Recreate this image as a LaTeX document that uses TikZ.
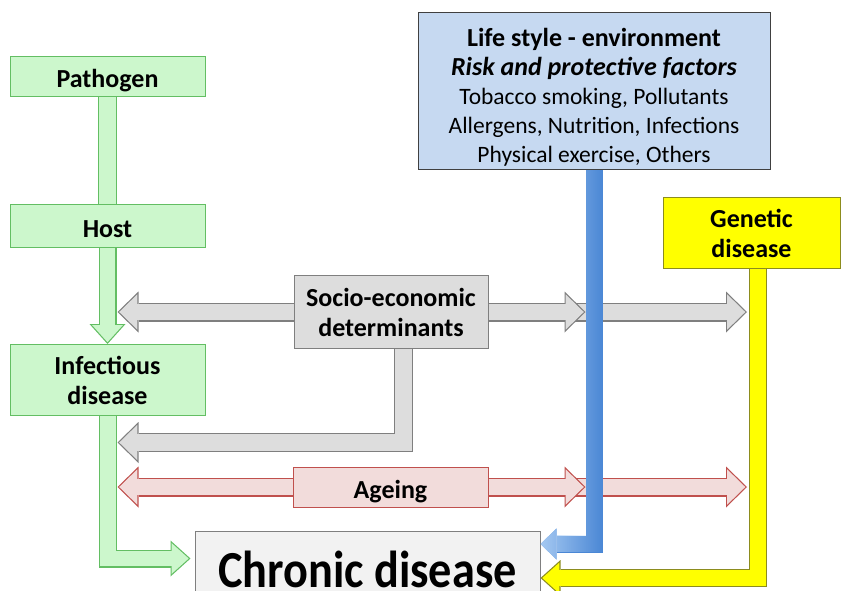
\documentclass[tikz,border=0pt]{standalone}
\usepackage{fontspec}
\setmainfont{Carlito}
\usetikzlibrary{arrows.meta,calc,fadings}

\definecolor{greenfill}{HTML}{CCF7CC}
\definecolor{greenedge}{HTML}{63BE63}
\definecolor{grayfill}{HTML}{DDDDDD}
\definecolor{grayedge}{HTML}{7F7F7F}
\definecolor{pinkfill}{HTML}{F2DCDB}
\definecolor{pinkedge}{HTML}{C0504D}
\definecolor{bluefill}{HTML}{C6D9F1}
\definecolor{bluebar}{HTML}{4A87D5}
\definecolor{bluelight}{HTML}{B2D2F6}
\definecolor{yellowfill}{HTML}{FFFF00}
\definecolor{yellowedge}{HTML}{8C8C1E}
\definecolor{chronicfill}{HTML}{F2F2F2}

\tikzfading[name=bluefade, left color=transparent!0, right color=transparent!100]

\tikzset{
  fatline/.style 2 args={line width=19pt, draw=#1, line join=miter,
    postaction={draw=#2, line width=16.6pt}},
  fat/.style 2 args={line width=19pt, draw=#1, line join=miter,
    -{Triangle[length=21pt,width=41pt,line width=0pt]},
    postaction={draw=#2, line width=16.6pt, shorten >=1.72pt,
      -{Triangle[length=18.08pt,width=35.3pt,line width=0pt]}}},
  fatmid/.style 2 args={line width=18pt, draw=#1, line join=miter,
    -{Triangle[length=20pt,width=36pt,line width=0pt]},
    postaction={draw=#2, line width=15.6pt, shorten >=1.79pt,
      -{Triangle[length=17.01pt,width=30.6pt,line width=0pt]}}},
  boxfont/.style={font=\fontsize{26}{30}\selectfont\bfseries},
  oneline/.style={text height=22pt,text depth=0pt},
}

\begin{document}
\begin{tikzpicture}[x=1pt,y=-1pt]
		\useasboundingbox (0,0) rectangle (844,591);
		\clip (0,0) rectangle (844,591);
		\begin{scope}[every node/.style={draw=greenedge,fill=greenfill,line width=1pt,
			minimum width=195pt,inner sep=0pt,align=center,boxfont}]
			\node[minimum height=40pt,oneline] (pathogen) at (107.5,77) {Pathogen};
			\node[minimum height=42pt,oneline] (host) at (107.5,226) {Host};
			\node[minimum height=71pt] (infect) at (107.5,380) {Infectious\\disease};
		\end{scope}
		\begin{scope}[every node/.style={line width=1pt,inner sep=0pt,align=center,boxfont}]
			\node[draw=grayedge,fill=grayfill,minimum width=194pt,minimum height=73pt]
				(socio) at (391,312) {Socio-economic\\determinants};
			\node[draw=pinkedge,fill=pinkfill,minimum width=195pt,minimum height=40pt,oneline]
				(ageing) at (390.5,487) {Ageing};
			\node[draw=black!75,fill=bluefill,minimum width=352pt,minimum height=157pt,
				font=\fontsize{23.5}{29}\selectfont]
				(life) at (594,91.5) {\rule{0pt}{30pt}{\fontsize{26}{30}\selectfont\bfseries Life style - environment}\\
				{\fontsize{26}{30}\selectfont\bfseries\itshape Risk and protective factors}\\
				Tobacco smoking, Pollutants\\
				Allergens, Nutrition, Infections\\
				Physical exercise, Others};
			\node[draw=yellowedge,fill=yellowfill,minimum width=177pt,minimum height=70pt]
				(genetic) at (751.5,233) {Genetic\\disease};
			\node[draw=grayedge,fill=chronicfill,minimum width=345pt,anchor=north,
				text height=56pt,text depth=34pt,font=\fontsize{52}{60}\selectfont\bfseries]
				(chronic) at (367.5,531) {\scalebox{0.89}[1]{Chronic disease}};
		\end{scope}
		\coordinate (bluebend) at (594.5,544);
		\coordinate (yellowbend) at (758,578);
		\coordinate (greenbend) at (108,558.5);
		\coordinate (graybend) at (403.5,442.5);
		% infection line
		\draw[fatline={greenedge}{greenfill}] (pathogen) -- (host);
		\draw[fatmid={greenedge}{greenfill}] (host) -- (infect);
		\draw[fatmid={greenedge}{greenfill}] (infect.south -| greenbend) -- (greenbend)
			-- ($(chronic.west |- greenbend)+(-4,0)$);
		% socio-economic
		\draw[fat={grayedge}{grayfill}] ($(socio.east -| bluebend)+(-20,0)$)
			-- ($(socio.east -| yellowbend)+(-11,0)$);
		\draw[fat={grayedge}{grayfill}] (socio.east) -- ($(socio.east -| bluebend)+(-9,0)$);
		\draw[fat={grayedge}{grayfill}] (socio.west) -- ($(socio.west -| infect.center)+(10,0)$);
		\draw[fat={grayedge}{grayfill}] (socio.south -| graybend) -- (graybend)
			-- ($(graybend -| infect.center)+(10,0)$);
		% ageing
		\draw[fat={pinkedge}{pinkfill}] ($(ageing.east -| bluebend)+(-20,0)$)
			-- ($(ageing.east -| yellowbend)+(-11,0)$);
		\draw[fat={pinkedge}{pinkfill}] (ageing.east) -- ($(ageing.east -| bluebend)+(-9,0)$);
		\draw[fat={pinkedge}{pinkfill}] (ageing.west) -- ($(ageing.west -| infect.center)+(10,0)$);
		% life style and genetics
		\draw[line width=17pt,draw=bluebar,line join=miter,
			-{Triangle[length=16pt,width=31pt,line width=0pt]},
			postaction={draw=bluelight,path fading=bluefade}]
			(life.south -| bluebend) -- (bluebend) -- (chronic.east |- bluebend);
		\draw[fatmid={yellowedge}{yellowfill}] (genetic.south -| yellowbend) -- (yellowbend)
			-- (chronic.east |- yellowbend);
	\end{tikzpicture}
\end{document}
